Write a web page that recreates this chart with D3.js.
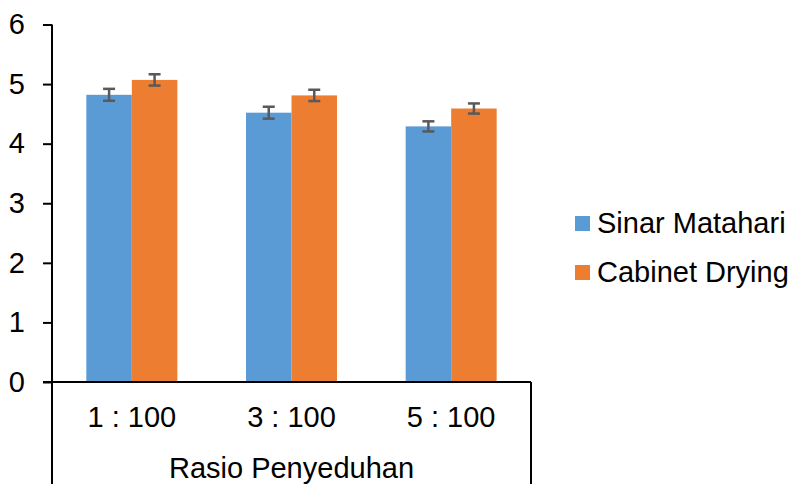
<!DOCTYPE html>
<html>
<head>
<meta charset="utf-8">
<script src="https://cdn.jsdelivr.net/npm/d3@7/dist/d3.min.js"></script>
<style>
  html, body { margin: 0; padding: 0; background: #fff; }
  svg { display: block; }
  text { font-family: "Liberation Sans", Arial, sans-serif; fill: #000; }
</style>
</head>
<body>
<svg id="chart" width="791" height="484"></svg>
<script>
const categories = ["1 : 100", "3 : 100", "5 : 100"];
const seriesNames = ["Sinar Matahari", "Cabinet Drying"];
const sinarMatahari = [4.82, 4.52, 4.29];
const cabinetDrying = [5.07, 4.81, 4.59];
const sinarErr = [0.10, 0.10, 0.085];
const cabinetErr = [0.095, 0.095, 0.085];
const yTicks = [0, 1, 2, 3, 4, 5, 6];
const xTitle = "Rasio Penyeduhan";
const colors = ["#5B9BD5", "#ED7D31"];

(function () {
const svg = d3.select("#chart");
const W = 791, H = 484;
const FS = 29;
const mLeft = 52, mRight = 531, mTop = 24.5, mBottom = 382;

const x0 = d3.scaleBand().domain(categories).range([mLeft, mRight])
  .paddingInner(0.43).paddingOuter(0.215);
const x1 = d3.scaleBand().domain(seriesNames).range([0, x0.bandwidth()]).padding(0);
const y = d3.scaleLinear().domain([0, 6]).range([mBottom, mTop]);

const rows = categories.map((c, i) => ({
  cat: c,
  vals: [
    {s: seriesNames[0], v: sinarMatahari[i], e: sinarErr[i], c: colors[0]},
    {s: seriesNames[1], v: cabinetDrying[i], e: cabinetErr[i], c: colors[1]}
  ]
}));

// bars
const g = svg.append("g");
const groups = g.selectAll("g.cat").data(rows).join("g")
  .attr("class", "cat")
  .attr("transform", d => `translate(${x0(d.cat)},0)`);
groups.selectAll("rect").data(d => d.vals).join("rect")
  .attr("x", d => x1(d.s))
  .attr("width", x1.bandwidth())
  .attr("y", d => y(d.v))
  .attr("height", d => y(0) - y(d.v))
  .attr("fill", d => d.c);

// error bars
const eb = groups.selectAll("g.err").data(d => d.vals).join("g")
  .attr("class", "err")
  .attr("stroke", "#595959").attr("stroke-width", 2.5).attr("fill", "none");
const cx = d => x1(d.s) + x1.bandwidth() / 2;
eb.append("line")
  .attr("x1", cx).attr("x2", cx)
  .attr("y1", d => y(d.v + d.e)).attr("y2", d => y(d.v - d.e));
eb.append("line")
  .attr("x1", d => cx(d) - 6).attr("x2", d => cx(d) + 6)
  .attr("y1", d => y(d.v + d.e)).attr("y2", d => y(d.v + d.e));
eb.append("line")
  .attr("x1", d => cx(d) - 6).attr("x2", d => cx(d) + 6)
  .attr("y1", d => y(d.v - d.e)).attr("y2", d => y(d.v - d.e));

// y axis
const yAxis = d3.axisLeft(y).tickValues(yTicks).tickSize(9).tickPadding(18).tickFormat(d3.format("d"));
const ya = svg.append("g").attr("transform", `translate(${mLeft},0)`).call(yAxis);
ya.select(".domain").remove();
ya.selectAll(".tick line").attr("stroke", "#000").attr("stroke-width", 2);
ya.selectAll(".tick text").attr("font-size", FS).attr("fill", "#000")
  .style("font-family", '"Liberation Sans", Arial, sans-serif');

// axis lines
svg.append("line").attr("x1", mLeft).attr("x2", mLeft).attr("y1", mTop).attr("y2", H)
  .attr("stroke", "#000").attr("stroke-width", 2);
svg.append("line").attr("x1", mLeft - 9).attr("x2", mRight).attr("y1", mBottom).attr("y2", mBottom)
  .attr("stroke", "#000").attr("stroke-width", 2);
svg.append("line").attr("x1", mRight).attr("x2", mRight).attr("y1", mBottom).attr("y2", H)
  .attr("stroke", "#000").attr("stroke-width", 2);

// category labels
svg.append("g").selectAll("text").data(categories).join("text")
  .attr("x", d => x0(d) + x0.bandwidth() / 2)
  .attr("y", 427)
  .attr("text-anchor", "middle")
  .attr("font-size", FS)
  .text(d => d);

svg.append("text").attr("x", (mLeft + mRight) / 2).attr("y", 478)
  .attr("text-anchor", "middle").attr("font-size", FS).text(xTitle);

// legend
const lg = svg.append("g").selectAll("g").data(seriesNames).join("g")
  .attr("transform", (d, i) => `translate(575,${216 + i * 49})`);
lg.append("rect").attr("width", 15).attr("height", 15).attr("fill", (d, i) => colors[i]);
lg.append("text").attr("x", 22).attr("y", 17).attr("font-size", FS).text(d => d);
})();
</script>
</body>
</html>
